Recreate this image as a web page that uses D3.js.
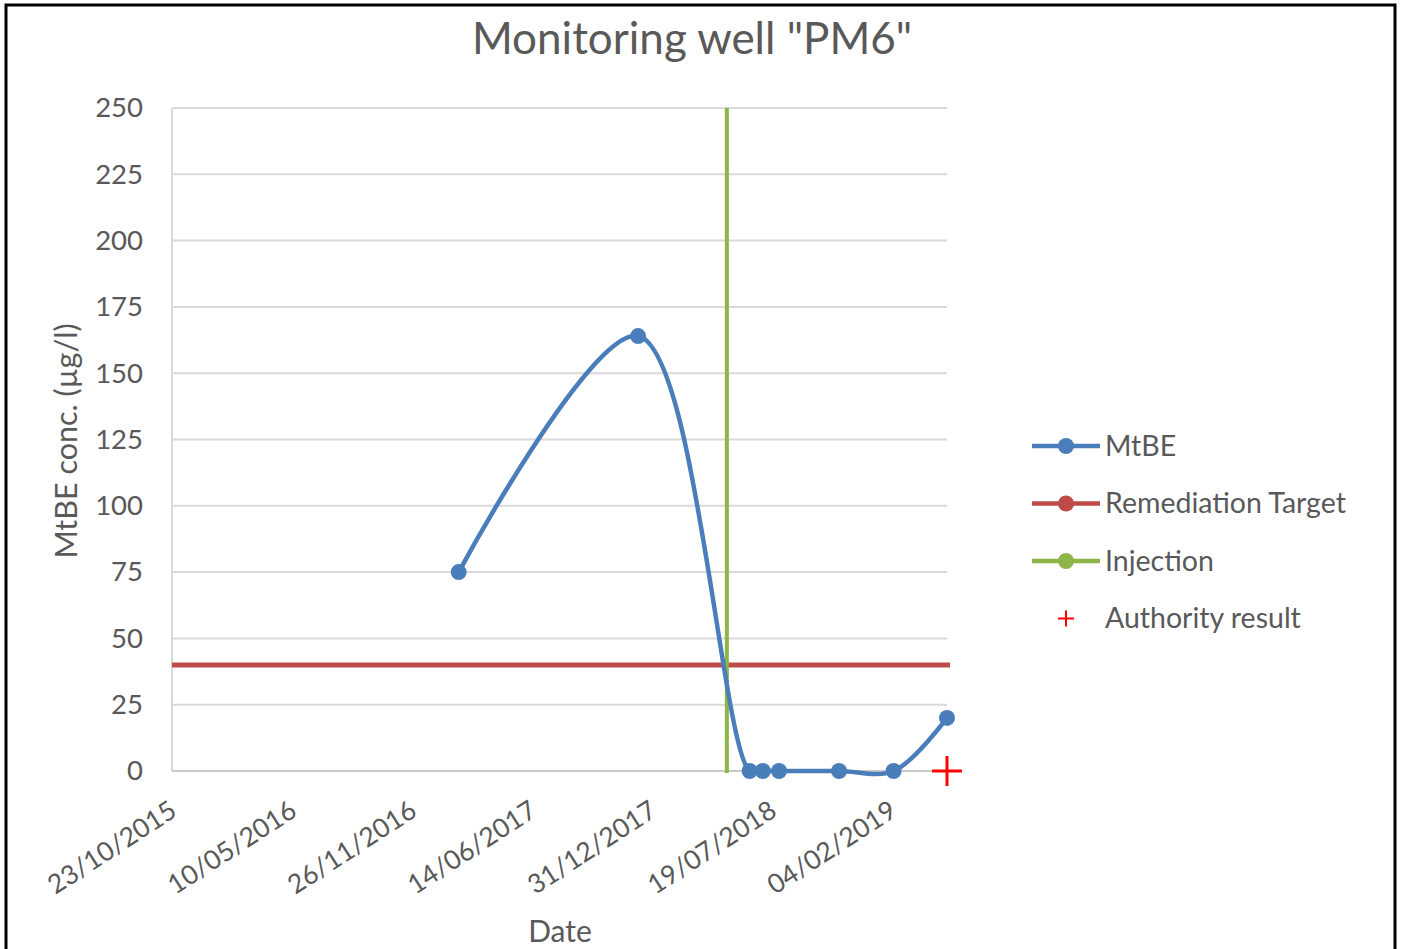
<!DOCTYPE html>
<html>
<head>
<meta charset="utf-8">
<script src="https://cdn.jsdelivr.net/npm/d3@7/dist/d3.min.js"></script>
<style>
  html, body { margin: 0; padding: 0; background: #fff; }
  svg { display: block; }
  text { font-family: Lato, "Open Sans", sans-serif; fill: #595959; }
</style>
</head>
<body>
<svg id="chart" width="1402" height="949"></svg>
<script>
// MtBE sampling dates and concentrations (µg/l)
const sampleDates = ["2017-02-12", "2017-12-08", "2018-06-12", "2018-07-04", "2018-07-31",
                     "2018-11-08", "2019-02-07", "2019-05-07"];
const mtbeValues = [75, 164, 0, 0, 0, 0, 0, 20];

// Remediation target concentration (µg/l)
const targetValue = 40;

// Date of the injection
const injectionDate = "2018-05-05";

// Authority check result
const authorityDate = "2019-05-07";
const authorityValue = 0;

// Axis settings
const xStart = "2015-10-23";
const xEnd = "2019-05-07";
const xTickStepDays = 200;
const yTicks = [0, 25, 50, 75, 100, 125, 150, 175, 200, 225, 250];

const legendLabels = ["MtBE", "Remediation Target", "Injection", "Authority result"];

const parse = d3.utcParse("%Y-%m-%d");
const fmt = d3.utcFormat("%d/%m/%Y");

const svg = d3.select("#chart");

// outer frame
svg.append("rect")
  .attr("x", 6).attr("y", 5).attr("width", 1389).attr("height", 960)
  .attr("fill", "none").attr("stroke", "#000").attr("stroke-width", 3);

const plot = { left: 172, right: 947, top: 108, bottom: 771 };

const x = d3.scaleUtc()
  .domain([parse(xStart), parse(xEnd)])
  .range([plot.left, plot.right]);

const y = d3.scaleLinear()
  .domain([0, 250])
  .range([plot.bottom, plot.top]);

const xTickDates = d3.utcDay.range(parse(xStart), parse(xEnd), 1)
  .filter((d, i) => i % xTickStepDays === 0);

// horizontal gridlines
const grid = svg.append("g");
grid.selectAll("line")
  .data(yTicks.filter(v => v > 0))
  .join("line")
  .attr("x1", plot.left).attr("x2", plot.right)
  .attr("y1", d => y(d)).attr("y2", d => y(d))
  .attr("stroke", "#d9d9d9").attr("stroke-width", 2);

// vertical axis line
svg.append("line")
  .attr("x1", plot.left).attr("x2", plot.left)
  .attr("y1", plot.top).attr("y2", plot.bottom)
  .attr("stroke", "#d9d9d9").attr("stroke-width", 2);

// horizontal axis line
svg.append("line")
  .attr("x1", plot.left).attr("x2", plot.right)
  .attr("y1", plot.bottom).attr("y2", plot.bottom)
  .attr("stroke", "#c8c8c8").attr("stroke-width", 2);

// y axis labels
const yAxis = d3.axisLeft(y).tickValues(yTicks).tickSize(0).tickPadding(29);
const yg = svg.append("g").attr("transform", `translate(${plot.left},0)`).call(yAxis);
yg.select(".domain").remove();
yg.selectAll("text")
  .style("font-family", "Lato, sans-serif")
  .style("font-size", "27.5px")
  .attr("fill", "#595959");

// x axis labels (rotated)
const xAxis = d3.axisBottom(x).tickValues(xTickDates).tickFormat(fmt).tickSize(0);
const xg = svg.append("g").attr("transform", `translate(0,${plot.bottom})`).call(xAxis);
xg.select(".domain").remove();
xg.selectAll("text")
  .style("font-family", "Lato, sans-serif")
  .style("font-size", "26.5px")
  .attr("fill", "#595959")
  .attr("text-anchor", "end")
  .attr("y", 0).attr("dy", 0)
  .attr("transform", "translate(6,44) rotate(-33)");

// remediation target
svg.append("line")
  .attr("x1", plot.left).attr("x2", plot.right + 3)
  .attr("y1", y(targetValue)).attr("y2", y(targetValue))
  .attr("stroke", "#be4b48").attr("stroke-width", 5);

// injection line
svg.append("line")
  .attr("x1", x(parse(injectionDate))).attr("x2", x(parse(injectionDate)))
  .attr("y1", plot.top).attr("y2", plot.bottom + 2)
  .attr("stroke", "#8db548").attr("stroke-width", 4);

// MtBE series
const mtbe = sampleDates.map((d, i) => ({ date: parse(d), value: mtbeValues[i] }));
const line = d3.line()
  .x(d => x(d.date)).y(d => y(d.value))
  .curve(d3.curveCatmullRom.alpha(0.5));

svg.append("path")
  .datum(mtbe)
  .attr("d", line)
  .attr("fill", "none")
  .attr("stroke", "#4a7ebb")
  .attr("stroke-width", 4.5)
  .attr("stroke-linejoin", "round");

svg.append("g").selectAll("circle")
  .data(mtbe)
  .join("circle")
  .attr("cx", d => x(d.date)).attr("cy", d => y(d.value))
  .attr("r", 8)
  .attr("fill", "#4a7ebb");

// authority result marker
const ax = x(parse(authorityDate)), ay = y(authorityValue);
const cross = svg.append("g").attr("transform", `translate(${ax},${ay})`);
cross.append("line").attr("x1", -15).attr("x2", 15).attr("y1", 0).attr("y2", 0)
  .attr("stroke", "#ff0000").attr("stroke-width", 3);
cross.append("line").attr("x1", 0).attr("x2", 0).attr("y1", -15).attr("y2", 15)
  .attr("stroke", "#ff0000").attr("stroke-width", 3);

// title
svg.append("text")
  .attr("x", 692).attr("y", 54)
  .attr("text-anchor", "middle")
  .style("font-size", "44px")
  .text('Monitoring well "PM6"');

// axis titles
svg.append("text")
  .attr("transform", "translate(77,441) rotate(-90)")
  .attr("text-anchor", "middle")
  .style("font-size", "30.5px")
  .text("MtBE conc. (µg/l)");

svg.append("text")
  .attr("x", 560).attr("y", 942)
  .attr("text-anchor", "middle")
  .style("font-size", "30px")
  .text("Date");

// legend
const legendColors = ["#4a7ebb", "#be4b48", "#8db548", "#ff0000"];
const lg = svg.append("g");
legendLabels.forEach((label, i) => {
  const ly = 446 + i * 57.5;
  const row = lg.append("g").attr("transform", `translate(1032,${ly})`);
  if (i < 3) {
    row.append("line").attr("x1", 0).attr("x2", 68).attr("y1", 0).attr("y2", 0)
      .attr("stroke", legendColors[i]).attr("stroke-width", 4.5);
    row.append("circle").attr("cx", 34).attr("cy", 0).attr("r", 8).attr("fill", legendColors[i]);
  } else {
    row.append("line").attr("x1", 26).attr("x2", 42).attr("y1", 0).attr("y2", 0)
      .attr("stroke", legendColors[i]).attr("stroke-width", 2);
    row.append("line").attr("x1", 34).attr("x2", 34).attr("y1", -8).attr("y2", 8)
      .attr("stroke", legendColors[i]).attr("stroke-width", 2);
  }
  row.append("text")
    .attr("x", 73).attr("y", 0).attr("dy", "0.35em")
    .style("font-size", "28.5px")
    .text(label);
});
</script>
</body>
</html>
